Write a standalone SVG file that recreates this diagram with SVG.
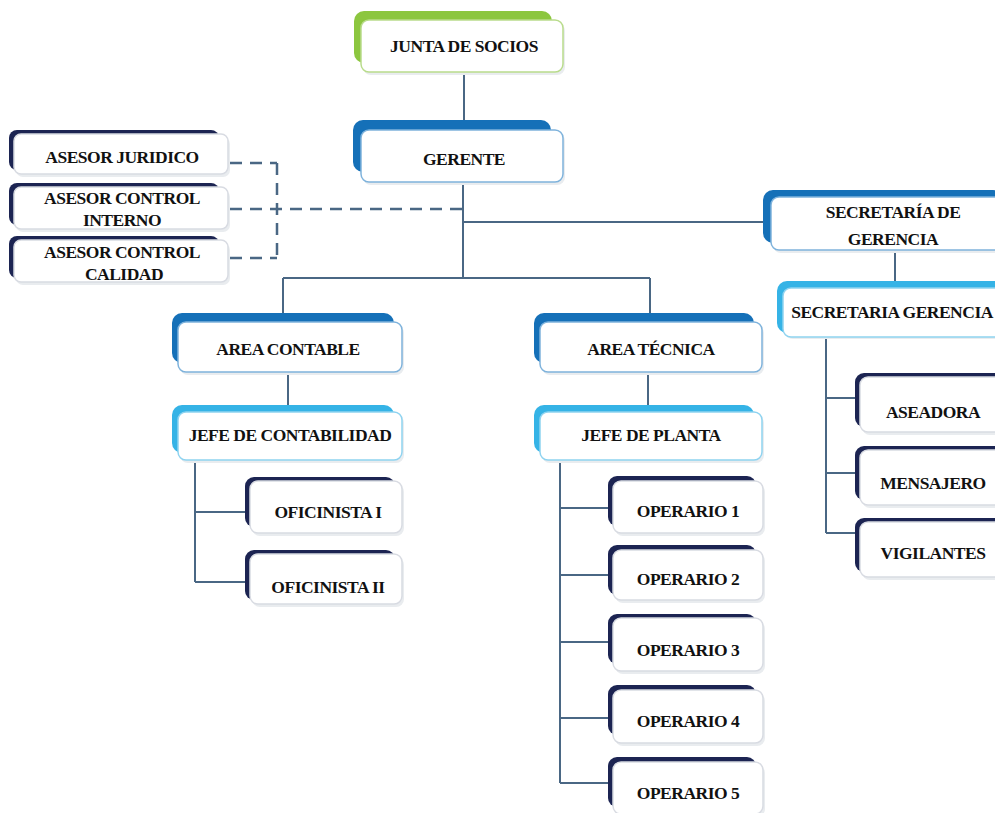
<svg xmlns="http://www.w3.org/2000/svg" width="995" height="813" viewBox="0 0 995 813">
<style>
.bg{fill:#ffffff}
.box{fill:#ffffff;stroke-width:1.5}
.sh{fill:#e9ecef}
.green{fill:#8cc63f}
.blue{fill:#1570b8}
.lblue{fill:#35b3e6}
.navy{fill:#1c2452}
.bG{stroke:#b9dc8c}
.bB{stroke:#7fb3dc}
.bL{stroke:#8fd3f0}
.bN{stroke:#d8dbe2}
text{font-family:"Liberation Serif","DejaVu Serif",serif;font-weight:bold;font-size:17.5px;fill:#111111;text-anchor:middle;letter-spacing:-0.5px}
.c{fill:none;stroke:#4a6784;stroke-width:2}
.d{fill:none;stroke:#4a6784;stroke-width:2.5;stroke-dasharray:12 8}
</style>
<rect class="bg" width="995" height="813"/>
<g id="connectors">
<path class="c" d="M464 72V130"/>
<path class="c" d="M463 182V278M283 278H650M283 278V322M650 278V322"/>
<path class="c" d="M463 222H771"/>
<path class="d" d="M230 163H277M230 209H463M230 258H277M277 163V258"/>
<path class="c" d="M288 372V412M648 372V412"/>
<path class="c" d="M195 460V582M195 512H248M195 582H248"/>
<path class="c" d="M560 460V783M560 508H612M560 575H612M560 642H612M560 718H612M560 783H612"/>
<path class="c" d="M895 250V288"/>
<path class="c" d="M826 338V533M826 398H858M826 473H858M826 533H858"/>
</g>
<g id="junta">
<rect class="green" x="354" y="11" width="198" height="52" rx="10"/>
<rect class="sh" x="363" y="23" width="202" height="52" rx="8"/>
<rect class="box bG" x="361" y="20" width="202" height="52" rx="8"/>
<text x="464" y="52">JUNTA DE SOCIOS</text>
</g>
<g id="gerente">
<rect class="blue" x="353" y="120" width="198" height="52" rx="10"/>
<rect class="sh" x="363" y="133" width="202" height="52" rx="8"/>
<rect class="box bB" x="361" y="130" width="202" height="52" rx="8"/>
<text x="464" y="165">GERENTE</text>
</g>
<g id="asesor-juridico">
<rect class="navy" x="9" y="130" width="210" height="40" rx="8"/>
<rect class="sh" x="16" y="137" width="214" height="40" rx="7"/>
<rect class="box bN" x="14" y="134" width="214" height="40" rx="7"/>
<text x="122" y="163">ASESOR JURIDICO</text>
</g>
<g id="asesor-control-interno">
<rect class="navy" x="9" y="183" width="210" height="42" rx="8"/>
<rect class="sh" x="16" y="190" width="214" height="42" rx="7"/>
<rect class="box bN" x="14" y="187" width="214" height="42" rx="7"/>
<text x="122" y="204">ASESOR CONTROL</text>
<text x="122" y="226">INTERNO</text>
</g>
<g id="asesor-control-calidad">
<rect class="navy" x="9" y="236" width="210" height="42" rx="8"/>
<rect class="sh" x="16" y="243" width="214" height="42" rx="7"/>
<rect class="box bN" x="14" y="240" width="214" height="42" rx="7"/>
<text x="122" y="258">ASESOR CONTROL</text>
<text x="124" y="280">CALIDAD</text>
</g>
<g id="secretaria-de-gerencia">
<rect class="blue" x="763" y="190" width="240" height="53" rx="10"/>
<rect class="sh" x="773" y="200" width="240" height="53" rx="8"/>
<rect class="box bB" x="771" y="197" width="240" height="53" rx="8"/>
<text x="893" y="218">SECRETARÍA DE</text>
<text x="893" y="245">GERENCIA</text>
</g>
<g id="secretaria-gerencia">
<rect class="lblue" x="777" y="281" width="240" height="52" rx="10"/>
<rect class="sh" x="785" y="291" width="240" height="48" rx="8"/>
<rect class="box bL" x="783" y="288" width="240" height="49" rx="8"/>
<text x="892" y="318">SECRETARIA GERENCIA</text>
</g>
<g id="area-contable">
<rect class="blue" x="172" y="313" width="222" height="50" rx="10"/>
<rect class="sh" x="180" y="325" width="224" height="50" rx="8"/>
<rect class="box bB" x="178" y="322" width="224" height="50" rx="8"/>
<text x="288" y="355">AREA CONTABLE</text>
</g>
<g id="jefe-contabilidad">
<rect class="lblue" x="172" y="405" width="222" height="48" rx="10"/>
<rect class="sh" x="180" y="415" width="224" height="48" rx="8"/>
<rect class="box bL" x="178" y="412" width="224" height="48" rx="8"/>
<text x="290" y="441">JEFE DE CONTABILIDAD</text>
</g>
<g id="area-tecnica">
<rect class="blue" x="534" y="313" width="220" height="50" rx="10"/>
<rect class="sh" x="542" y="325" width="222" height="50" rx="8"/>
<rect class="box bB" x="540" y="322" width="222" height="50" rx="8"/>
<text x="651" y="355">AREA TÉCNICA</text>
</g>
<g id="jefe-planta">
<rect class="lblue" x="534" y="405" width="220" height="48" rx="10"/>
<rect class="sh" x="542" y="415" width="222" height="48" rx="8"/>
<rect class="box bL" x="540" y="412" width="222" height="48" rx="8"/>
<text x="651" y="441">JEFE DE PLANTA</text>
</g>
<g id="oficinista-1">
<rect class="navy" x="245" y="477" width="150" height="50" rx="9"/>
<rect class="sh" x="252" y="484" width="152" height="52" rx="8"/>
<rect class="box bN" x="250" y="481" width="152" height="52" rx="8"/>
<text x="328" y="518">OFICINISTA I</text>
</g>
<g id="oficinista-2">
<rect class="navy" x="245" y="550" width="150" height="50" rx="9"/>
<rect class="sh" x="252" y="557" width="152" height="50" rx="8"/>
<rect class="box bN" x="250" y="554" width="152" height="50" rx="8"/>
<text x="328" y="593">OFICINISTA II</text>
</g>
<g id="operario-1">
<rect class="navy" x="608" y="476" width="148" height="50" rx="9"/>
<rect class="sh" x="615" y="484" width="150" height="52" rx="8"/>
<rect class="box bN" x="613" y="481" width="150" height="52" rx="8"/>
<text x="688" y="517">OPERARIO 1</text>
</g>
<g id="operario-2">
<rect class="navy" x="608" y="545" width="148" height="50" rx="9"/>
<rect class="sh" x="615" y="553" width="150" height="50" rx="8"/>
<rect class="box bN" x="613" y="550" width="150" height="50" rx="8"/>
<text x="688" y="585">OPERARIO 2</text>
</g>
<g id="operario-3">
<rect class="navy" x="608" y="614" width="148" height="50" rx="9"/>
<rect class="sh" x="615" y="621" width="150" height="53" rx="8"/>
<rect class="box bN" x="613" y="618" width="150" height="53" rx="8"/>
<text x="688" y="656">OPERARIO 3</text>
</g>
<g id="operario-4">
<rect class="navy" x="608" y="685" width="148" height="50" rx="9"/>
<rect class="sh" x="615" y="693" width="150" height="53" rx="8"/>
<rect class="box bN" x="613" y="690" width="150" height="53" rx="8"/>
<text x="688" y="727">OPERARIO 4</text>
</g>
<g id="operario-5">
<rect class="navy" x="608" y="757" width="148" height="50" rx="9"/>
<rect class="sh" x="615" y="765" width="150" height="52" rx="8"/>
<rect class="box bN" x="613" y="762" width="150" height="52" rx="8"/>
<text x="688" y="799">OPERARIO 5</text>
</g>
<g id="aseadora">
<rect class="navy" x="855" y="373" width="150" height="54" rx="9"/>
<rect class="sh" x="862" y="380" width="150" height="55" rx="8"/>
<rect class="box bN" x="860" y="377" width="150" height="55" rx="8"/>
<text x="933" y="418">ASEADORA</text>
</g>
<g id="mensajero">
<rect class="navy" x="855" y="446" width="150" height="54" rx="9"/>
<rect class="sh" x="862" y="453" width="150" height="55" rx="8"/>
<rect class="box bN" x="860" y="450" width="150" height="55" rx="8"/>
<text x="933" y="489">MENSAJERO</text>
</g>
<g id="vigilantes">
<rect class="navy" x="855" y="518" width="150" height="54" rx="9"/>
<rect class="sh" x="862" y="525" width="150" height="55" rx="8"/>
<rect class="box bN" x="860" y="522" width="150" height="55" rx="8"/>
<text x="933" y="559">VIGILANTES</text>
</g>
</svg>
